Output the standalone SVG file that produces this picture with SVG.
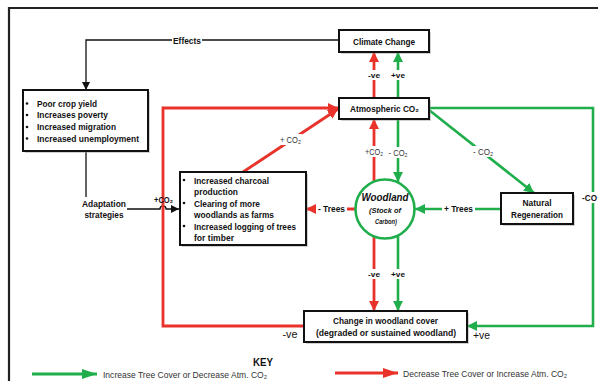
<svg xmlns="http://www.w3.org/2000/svg" width="598" height="381" viewBox="0 0 598 381">
  <style>
    text { font-family: "Liberation Sans", Arial, "DejaVu Sans", sans-serif; fill: #111; }
    .b { font-weight: bold; }
    .box { fill: #fff; stroke: #111; stroke-width: 2; }
    .shadow { fill: #999; opacity: 0.45; }
    .red { stroke: #e8322a; stroke-width: 2.8; fill: none; }
    .green { stroke: #1fae4b; stroke-width: 2.6; fill: none; }
    .blk { stroke: #111; stroke-width: 1.3; fill: none; }
    .bg { fill: #fff; }
    .lbl { font-size: 8.5px; fill: #333; }
    .cap { font-size: 9.5px; font-weight: bold; }
    .key { font-size: 9px; fill: #333; }
  </style>
  <defs>
    <marker id="ahRed" markerUnits="userSpaceOnUse" markerWidth="10" markerHeight="10" refX="10" refY="5" orient="auto">
      <path d="M0,0 L10,5 L0,10 z" fill="#e8322a"/>
    </marker>
    <marker id="ahGreen" markerUnits="userSpaceOnUse" markerWidth="10" markerHeight="10" refX="10" refY="5" orient="auto">
      <path d="M0,0 L10,5 L0,10 z" fill="#1fae4b"/>
    </marker>
    <marker id="ahBlk" markerUnits="userSpaceOnUse" markerWidth="8" markerHeight="8" refX="8" refY="4" orient="auto">
      <path d="M0,0 L8,4 L0,8 z" fill="#111"/>
    </marker>
    <marker id="ahRedKey" markerUnits="userSpaceOnUse" markerWidth="15" markerHeight="10" refX="15" refY="5" orient="auto">
      <path d="M0,0 L15,5 L0,10 z" fill="#e8322a"/>
    </marker>
    <marker id="ahGreenKey" markerUnits="userSpaceOnUse" markerWidth="15" markerHeight="10" refX="15" refY="5" orient="auto">
      <path d="M0,0 L15,5 L0,10 z" fill="#1fae4b"/>
    </marker>
  </defs>

  <rect width="598" height="381" fill="#fff"/>
  <!-- outer frame -->
  <path d="M9,381 L9,8 L598,8" fill="none" stroke="#222" stroke-width="2.2"/>

  <g id="connectors">
    <!-- effects of climate change -->
    <path class="blk" d="M339,40 L86,40 L86,90" marker-end="url(#ahBlk)"/>
    <path class="blk" d="M86,151 L86,197"/>
    <!-- adaptation strategies, hopping over the red return line -->
    <path class="blk" d="M127,209 L160,209 A3,3 0 0 1 166,209 L179,209" marker-end="url(#ahBlk)"/>

    <!-- atmospheric CO2 to climate change -->
    <path class="red" d="M374,98 L374,52" marker-end="url(#ahRed)"/>
    <path class="green" d="M398,98 L398,52" marker-end="url(#ahGreen)"/>

    <!-- woodland exchanges with the atmosphere -->
    <path class="red" d="M374,182 L374,119" marker-end="url(#ahRed)"/>
    <path class="green" d="M398,119 L398,182" marker-end="url(#ahGreen)"/>

    <!-- woodland to change in cover -->
    <path class="red" d="M374,236 L374,311" marker-end="url(#ahRed)"/>
    <path class="green" d="M398,235 L398,311" marker-end="url(#ahGreen)"/>

    <!-- trees lost / gained -->
    <path class="red" d="M355,209 L306,209" marker-end="url(#ahRed)"/>
    <path class="green" d="M501,209 L415,209" marker-end="url(#ahGreen)"/>

    <!-- land use emissions -->
    <path class="red" d="M243,172 L338,109" marker-end="url(#ahRed)" stroke-width="3.2"/>
    <path class="red" d="M304,326 L163,326 L163,108 L338,108" marker-end="url(#ahRed)"/>

    <!-- uptake by natural regeneration -->
    <path class="green" d="M429,110 L534,193" marker-end="url(#ahGreen)"/>
    <path class="green" d="M429,108 L593,108 L593,326 L467,326" marker-end="url(#ahGreen)"/>
  </g>

  <g id="node-impacts">
    <rect class="shadow" x="25" y="92" width="125" height="61"/>
    <rect class="box" x="23" y="90" width="125" height="61"/>
    <g fill="#111">
      <circle cx="27" cy="103.5" r="1.3"/>
      <circle cx="27" cy="115" r="1.3"/>
      <circle cx="27" cy="127" r="1.3"/>
      <circle cx="27" cy="138.5" r="1.3"/>
    </g>
    <text class="cap" x="37" y="106.5" textLength="60" lengthAdjust="spacingAndGlyphs">Poor crop yield</text>
    <text class="cap" x="37" y="118" textLength="71" lengthAdjust="spacingAndGlyphs">Increases poverty</text>
    <text class="cap" x="37" y="130" textLength="79" lengthAdjust="spacingAndGlyphs">Increased migration</text>
    <text class="cap" x="37" y="141.5" textLength="102" lengthAdjust="spacingAndGlyphs">Increased unemployment</text>
  </g>

  <g id="node-climate-change">
    <rect class="shadow" x="341" y="32" width="90" height="22"/>
    <rect class="box" x="339" y="30" width="90" height="22"/>
    <text class="cap" x="384" y="44.5" text-anchor="middle" textLength="62" lengthAdjust="spacingAndGlyphs">Climate Change</text>
  </g>

  <g id="node-atmospheric-co2">
    <rect class="shadow" x="341" y="100" width="90" height="21"/>
    <rect class="box" x="339" y="98" width="90" height="21" stroke-width="2.4"/>
    <text class="cap" x="384.5" y="111.5" text-anchor="middle" textLength="69" lengthAdjust="spacingAndGlyphs">Atmospheric CO₂</text>
  </g>

  <g id="node-land-use">
    <rect class="shadow" x="182" y="174" width="126" height="73"/>
    <rect class="box" x="180" y="172" width="126" height="73"/>
    <g fill="#111">
      <circle cx="184" cy="180" r="1.3"/>
      <circle cx="184" cy="203" r="1.3"/>
      <circle cx="184" cy="226" r="1.3"/>
    </g>
    <text class="cap" x="194" y="183.5" textLength="75" lengthAdjust="spacingAndGlyphs">Increased charcoal</text>
    <text class="cap" x="194" y="195" textLength="44" lengthAdjust="spacingAndGlyphs">production</text>
    <text class="cap" x="194" y="206.5" textLength="66" lengthAdjust="spacingAndGlyphs">Clearing of more</text>
    <text class="cap" x="194" y="218" textLength="80" lengthAdjust="spacingAndGlyphs">woodlands as farms</text>
    <text class="cap" x="194" y="229.5" textLength="102" lengthAdjust="spacingAndGlyphs">Increased logging of trees</text>
    <text class="cap" x="194" y="241" textLength="40" lengthAdjust="spacingAndGlyphs">for timber</text>
  </g>

  <g id="node-woodland">
    <circle cx="385" cy="209" r="29.5" fill="#fff" stroke="#1fae4b" stroke-width="2.6"/>
    <text x="385" y="200.5" text-anchor="middle" font-size="10.5" font-weight="bold" font-style="italic" textLength="47" lengthAdjust="spacingAndGlyphs">Woodland</text>
    <text x="385" y="212.5" text-anchor="middle" font-size="7.5" font-weight="bold" font-style="italic" fill="#333" textLength="32" lengthAdjust="spacingAndGlyphs">(Stock of</text>
    <text x="386" y="223.5" text-anchor="middle" font-size="7.5" font-weight="bold" font-style="italic" fill="#333" textLength="22" lengthAdjust="spacingAndGlyphs">Carbon)</text>
  </g>

  <g id="node-natural-regeneration">
    <rect class="shadow" x="503" y="195" width="72" height="31"/>
    <rect class="box" x="501" y="193" width="72" height="31"/>
    <text class="cap" x="537" y="206" text-anchor="middle" textLength="29" lengthAdjust="spacingAndGlyphs">Natural</text>
    <text class="cap" x="537" y="217.5" text-anchor="middle" textLength="52" lengthAdjust="spacingAndGlyphs">Regeneration</text>
  </g>

  <g id="node-woodland-cover">
    <rect class="shadow" x="306" y="313" width="163" height="31"/>
    <rect class="box" x="304" y="311" width="163" height="31"/>
    <text class="cap" x="385.5" y="323.5" text-anchor="middle" textLength="105" lengthAdjust="spacingAndGlyphs">Change in woodland cover</text>
    <text class="cap" x="386" y="335.5" text-anchor="middle" textLength="140" lengthAdjust="spacingAndGlyphs">(degraded  or sustained woodland)</text>
  </g>

  <g id="labels">
    <rect class="bg" x="172" y="35" width="30" height="10"/>
    <text class="cap" x="187" y="43.5" text-anchor="middle" font-size="9" textLength="28" lengthAdjust="spacingAndGlyphs">Effects</text>

    <text class="cap" x="104" y="206.5" text-anchor="middle" textLength="44" lengthAdjust="spacingAndGlyphs">Adaptation</text>
    <text class="cap" x="104" y="218" text-anchor="middle" textLength="39" lengthAdjust="spacingAndGlyphs">strategies</text>
    <text class="cap" x="163.5" y="203" text-anchor="middle" font-size="9" textLength="19" lengthAdjust="spacingAndGlyphs">+CO₂</text>

    <rect class="bg" x="369" y="70" width="10" height="10"/>
    <rect class="bg" x="392" y="70" width="12" height="10"/>
    <text class="b" x="374" y="78" text-anchor="middle" font-size="8" textLength="12" lengthAdjust="spacingAndGlyphs">-ve</text>
    <text class="b" x="398" y="78" text-anchor="middle" font-size="8" textLength="14" lengthAdjust="spacingAndGlyphs">+ve</text>

    <rect class="bg" x="365" y="146" width="18" height="11"/>
    <rect class="bg" x="388" y="147" width="20" height="11"/>
    <text class="lbl" x="374" y="155" text-anchor="middle" textLength="18" lengthAdjust="spacingAndGlyphs">+CO₂</text>
    <text class="lbl" x="398" y="156" text-anchor="middle" textLength="19" lengthAdjust="spacingAndGlyphs">- CO₂</text>

    <rect class="bg" x="279" y="134" width="23" height="11"/>
    <text class="lbl" x="290.5" y="143" text-anchor="middle" textLength="21" lengthAdjust="spacingAndGlyphs">+ CO₂</text>

    <rect class="bg" x="472" y="146" width="22" height="11"/>
    <text class="lbl" x="483" y="155" text-anchor="middle" textLength="20" lengthAdjust="spacingAndGlyphs">- CO₂</text>

    <rect class="bg" x="316" y="204" width="31" height="10"/>
    <text class="cap" x="331.5" y="212" text-anchor="middle" font-size="9" textLength="27" lengthAdjust="spacingAndGlyphs">- Trees</text>
    <rect class="bg" x="442" y="204" width="33" height="10"/>
    <text class="cap" x="458.5" y="212" text-anchor="middle" font-size="9" textLength="29" lengthAdjust="spacingAndGlyphs">+ Trees</text>

    <rect class="bg" x="369" y="269" width="10" height="10"/>
    <rect class="bg" x="392" y="269" width="12" height="10"/>
    <text class="b" x="374" y="277" text-anchor="middle" font-size="8" textLength="12" lengthAdjust="spacingAndGlyphs">-ve</text>
    <text class="b" x="398" y="277" text-anchor="middle" font-size="8" textLength="14" lengthAdjust="spacingAndGlyphs">+ve</text>

    <rect class="bg" x="581" y="192" width="17" height="11"/>
    <text class="cap" x="582" y="201" font-size="9" textLength="15" lengthAdjust="spacingAndGlyphs">-CO</text>

    <text x="290" y="337.5" text-anchor="middle" font-size="10" fill="#e8322a" textLength="15" lengthAdjust="spacingAndGlyphs">-ve</text>
    <text x="481.5" y="338.5" text-anchor="middle" font-size="10" fill="#1fae4b" textLength="17" lengthAdjust="spacingAndGlyphs">+ve</text>
  </g>

  <g id="legend">
    <text x="263" y="365.5" text-anchor="middle" font-size="11.5" font-weight="bold" textLength="20" lengthAdjust="spacingAndGlyphs">KEY</text>
    <path d="M32,374 L97,374" stroke="#1fae4b" stroke-width="3" marker-end="url(#ahGreenKey)"/>
    <text class="key" x="103" y="377.5" textLength="164" lengthAdjust="spacingAndGlyphs">Increase Tree Cover or Decrease Atm. CO₂</text>
    <path d="M335,373 L398,373" stroke="#e8322a" stroke-width="3" marker-end="url(#ahRedKey)"/>
    <text class="key" x="403" y="376.5" textLength="164" lengthAdjust="spacingAndGlyphs">Decrease Tree Cover or Increase Atm. CO₂</text>
  </g>
</svg>
